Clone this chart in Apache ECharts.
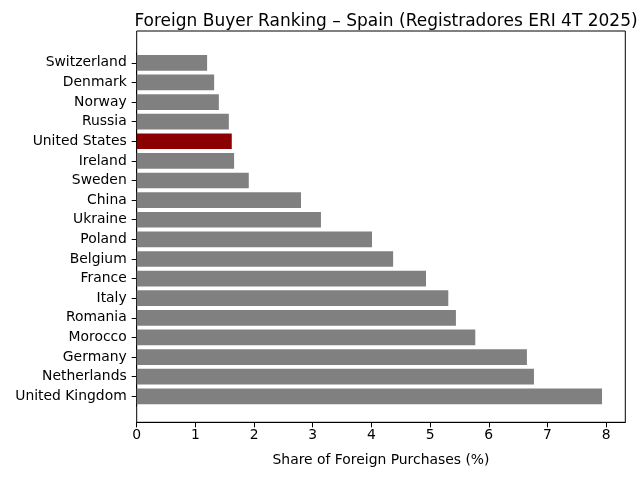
<!DOCTYPE html>
<html><head><meta charset="utf-8">
<script src="https://cdn.jsdelivr.net/npm/echarts@6/dist/echarts.min.js"></script>
<style>html,body{margin:0;padding:0;background:#fff}#c{width:640px;height:480px}</style>
</head><body><div id="c"></div>
<script>
const countries = ["United Kingdom","Netherlands","Germany","Morocco","Romania","Italy","France","Belgium","Poland","Ukraine","China","Sweden","Ireland","United States","Russia","Norway","Denmark","Switzerland"];
const shares = [7.93,6.77,6.65,5.77,5.44,5.31,4.93,4.37,4.01,3.14,2.80,1.91,1.66,1.62,1.57,1.40,1.32,1.20];
const highlight = "United States";
const xTicks = [0,1,2,3,4,5,6,7,8];

const font = "DejaVu Sans";
const xMax = 8.3265;
const chart = echarts.init(document.getElementById('c'), null, {renderer:'canvas'});
chart.setOption({
  animation:false,
  title:{text:"Foreign Buyer Ranking – Spain (Registradores ERI 4T 2025)", left:381, top:8, textAlign:'center',
    textStyle:{fontFamily:font,fontSize:17,fontWeight:'normal',color:'#000'}},
  grid:[
    {left:136.7,right:14.7,top:31,bottom:57.7,show:true,borderColor:'#000',borderWidth:1,backgroundColor:'transparent'},
    {left:136.7,right:14.7,top:53,bottom:73.9}
  ],
  xAxis:[
    {gridIndex:0,type:'value',min:0,max:xMax,interval:1,
      axisLine:{show:true,lineStyle:{color:'#000',width:1}},
      axisTick:{show:true,length:5,customValues:xTicks,lineStyle:{color:'#000'}},
      splitLine:{show:false},
      axisLabel:{fontFamily:font,fontSize:13.9,color:'#000',margin:6,customValues:xTicks},
      name:"Share of Foreign Purchases (%)",nameLocation:'middle',nameGap:31,
      nameTextStyle:{fontFamily:font,fontSize:13.9,color:'#000'}},
    {gridIndex:1,type:'value',min:0,max:xMax,show:false}
  ],
  yAxis:[
    {gridIndex:0,type:'value',show:false},
    {gridIndex:1,type:'category',data:countries,
      axisLine:{show:true,lineStyle:{color:'#000',width:1}},
      axisTick:{show:true,alignWithLabel:true,length:5,lineStyle:{color:'#000'}},
      axisLabel:{fontFamily:font,fontSize:13.9,color:'#000',margin:10}}
  ],
  series:[{type:'bar',xAxisIndex:1,yAxisIndex:1,barWidth:'80%',
    data:shares.map((v,i)=>({value:v,itemStyle:{color:countries[i]===highlight?'#8b0000':'#808080'}}))}]
});
</script></body></html>
